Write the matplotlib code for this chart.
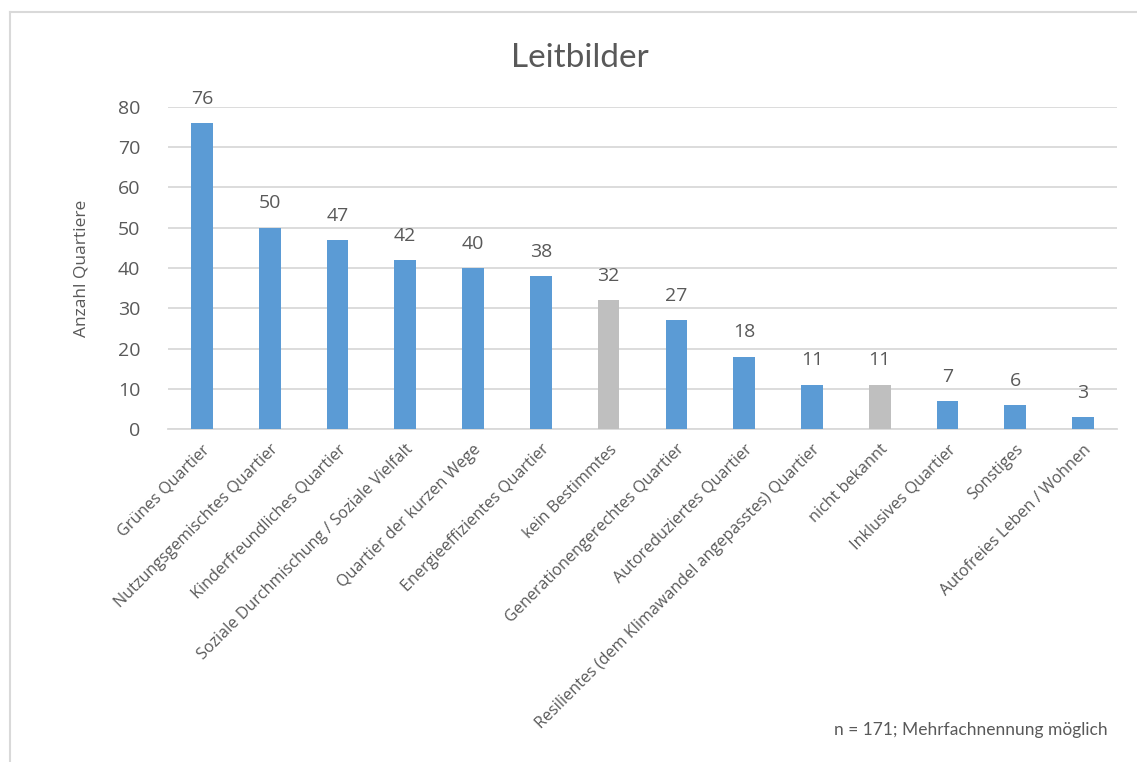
import matplotlib
matplotlib.use("Agg")
import matplotlib.pyplot as plt
from matplotlib.lines import Line2D

plt.rcParams['font.family'] = ['Open Sans', 'DejaVu Sans']

categories = ["Grünes Quartier", "Nutzungsgemischtes Quartier", "Kinderfreundliches Quartier",
              "Soziale Durchmischung / Soziale Vielfalt", "Quartier der kurzen Wege",
              "Energieeffizientes Quartier", "kein Bestimmtes", "Generationengerechtes Quartier",
              "Autoreduziertes Quartier", "Resilientes (dem Klimawandel angepasstes) Quartier",
              "nicht bekannt", "Inklusives Quartier", "Sonstiges", "Autofreies Leben / Wohnen"]
values = [76, 50, 47, 42, 40, 38, 32, 27, 18, 11, 11, 7, 6, 3]
grey_cats = ["kein Bestimmtes", "nicht bekannt"]
yticks = [0, 10, 20, 30, 40, 50, 60, 70, 80]

blue = '#5B9BD5'
grey = '#BFBFBF'
txt = '#595959'

fig = plt.figure(figsize=(11.37, 7.62), dpi=100)
W, H = 1137, 762
ax = fig.add_axes([168 / W, 1 - 429 / H, (1117 - 168) / W, (429 - 107) / H])

colors = [grey if c in grey_cats else blue for c in categories]
x = list(range(len(categories)))
ax.bar(x, values, width=0.32, color=colors, zorder=3)
for xi, v in zip(x, values):
    ax.text(xi, v + 3.8, str(v), ha='center', va='bottom', fontsize=14, color=txt)

ax.set_xlim(-0.5, len(categories) - 0.5)
ax.set_ylim(0, 80)
ax.set_yticks(yticks)
ax.yaxis.grid(True, color='#D9D9D9', linewidth=1.3, zorder=0)
ax.set_axisbelow(True)
for s in ['top', 'right', 'left']:
    ax.spines[s].set_visible(False)
ax.spines['bottom'].set_color('#D9D9D9')
ax.spines['bottom'].set_linewidth(1.3)
ax.tick_params(axis='both', length=0, colors=txt)
ax.tick_params(axis='y', labelsize=14, pad=20)
ax.set_xticks(x)
ax.set_xticklabels(categories, rotation=45, ha='right', rotation_mode='anchor',
                   fontsize=11.6, color=txt)
ax.tick_params(axis='x', pad=9)
ax.set_ylabel("Anzahl Quartiere", fontsize=12.5, color=txt, labelpad=20)

fig.text(580 / W, 1 - 58 / H, "Leitbilder", ha='center', va='center', fontsize=24, color=txt,
         family=['Lato', 'DejaVu Sans'])
fig.text(1108 / W, 1 - 730 / H, "n = 171; Mehrfachnennung möglich", ha='right', va='center',
         fontsize=12.5, color=txt, family=['Lato', 'DejaVu Sans'])

# outer chart frame (cropped on the right and bottom)
fig.add_artist(Line2D([10 / W, 1.0], [1 - 12 / H, 1 - 12 / H], transform=fig.transFigure,
                      color='#D9D9D9', linewidth=1.5))
fig.add_artist(Line2D([10 / W, 10 / W], [0.0, 1 - 12 / H], transform=fig.transFigure,
                      color='#D9D9D9', linewidth=1.5))

fig.savefig("out.png", dpi=100, facecolor='white')
